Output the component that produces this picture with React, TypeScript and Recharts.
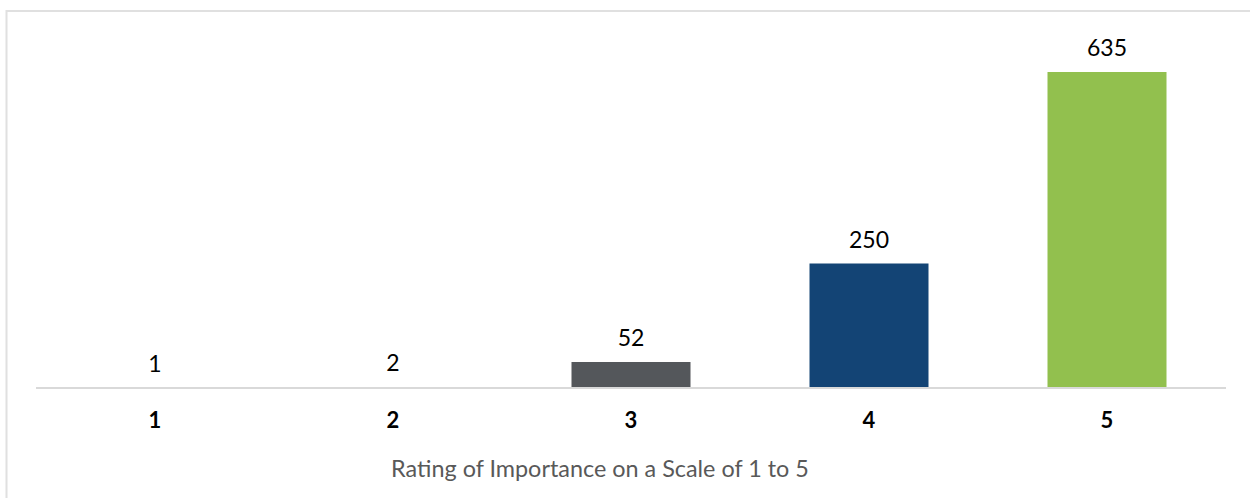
import { BarChart, Bar, XAxis, YAxis, Cell, LabelList, Customized } from 'recharts'

const ratings = ['1', '2', '3', '4', '5']
const counts = [1, 2, 52, 250, 635]
const barColors = ['#d9d9d9', '#bfbfbf', '#54575b', '#134475', '#92c04e']

const data = ratings.map((rating, i) => ({ rating, count: counts[i] }))

const FONT = 'Lato, "Open Sans", sans-serif'

const RatingTick = ({ x, y, payload }: { x: number; y: number; payload: { value: string } }) => (
  <text x={x} y={y + 40} textAnchor="middle" fill="#000" fontSize={22} fontWeight={700} fontFamily={FONT}>
    {payload.value}
  </text>
)

// light frame around the plot, open on the right and bottom
const Frame = () => (
  <g>
    <line x1={6.5} y1={11} x2={1250} y2={11} stroke="#e0e0e0" strokeWidth={2} />
    <line x1={6.5} y1={10} x2={6.5} y2={498} stroke="#e0e0e0" strokeWidth={2} />
  </g>
)

export default function App() {
  return (
    <div style={{ position: 'absolute', left: 0, top: 0, width: 1250, height: 498, overflow: 'hidden', background: '#fff' }}>
      <BarChart
        width={1250}
        height={498}
        data={data}
        margin={{ top: 72, right: 24, left: 36, bottom: 15 }}
        barCategoryGap="25%"
      >
        <Customized component={Frame} />
        <XAxis
          dataKey="rating"
          height={95}
          stroke="#d9d9d9"
          strokeWidth={2}
          tickLine={false}
          tickSize={0}
          tickMargin={0}
          tick={(props: any) => <RatingTick {...props} />}
          label={{
            value: 'Rating of Importance on a Scale of 1 to 5',
            position: 'insideBottom',
            offset: 6,
            dx: -31,
            fill: '#595959',
            fontSize: 23.4,
            fontFamily: FONT,
          }}
        />
        <YAxis hide domain={[0, 635]} />
        <Bar dataKey="count" isAnimationActive={false}>
          {data.map((d, i) => (
            <Cell key={d.rating} fill={barColors[i]} />
          ))}
          <LabelList dataKey="count" position="top" offset={16} fill="#000" fontSize={23} fontFamily={FONT} />
        </Bar>
      </BarChart>
    </div>
  )
}
